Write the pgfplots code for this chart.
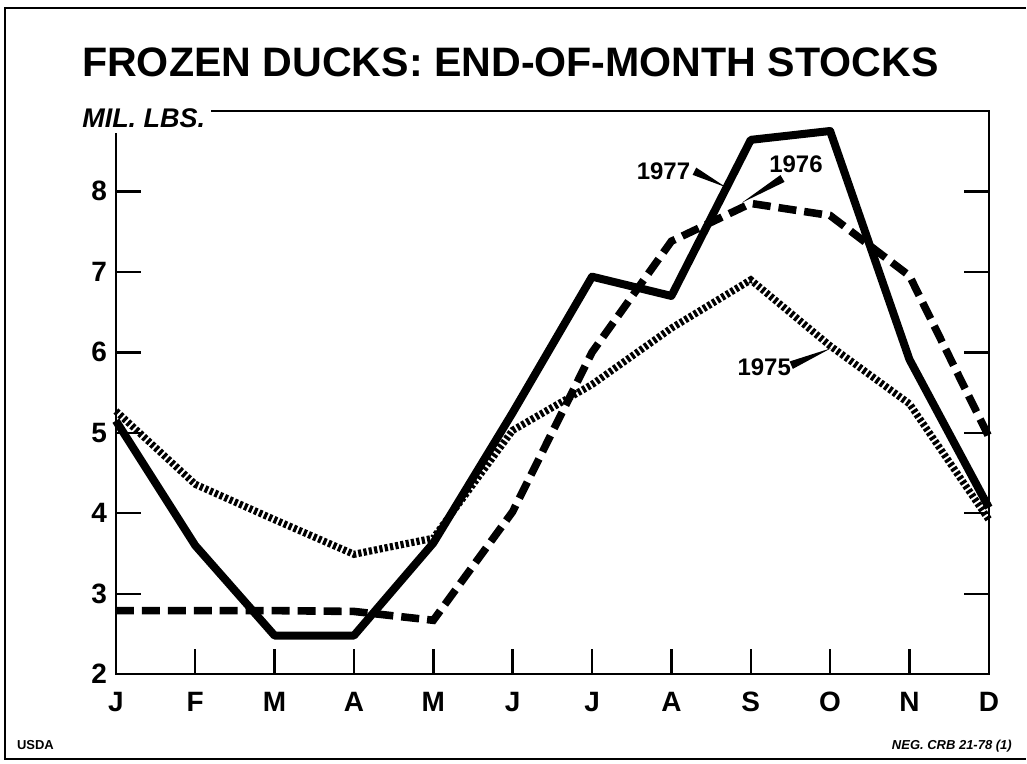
\documentclass[border=0pt]{standalone}
\usepackage{pgfplots}
\pgfplotsset{compat=1.18}
\usepackage{fontspec}
\setmainfont{Liberation Sans}

\begin{document}
\begin{tikzpicture}[x=1pt,y=1pt]
% invisible bounding box matching the page proportions
\path (-58,-44.5) rectangle (455.5,337.5);
\begin{axis}[
  at={(0,0)}, anchor=south west,
  scale only axis, width=437pt, height=282pt,
  xmin=0, xmax=11, ymin=2, ymax=9,
  xtick={0,...,11},
  xticklabels={J,F,M,A,M,J,J,A,S,O,N,D},
  ytick={2,...,8},
  tick align=inside,
  xtick pos=left, ytick pos=both, yticklabel pos=left,
  major tick length=12.5pt,
  axis line style={line width=1.2pt},
  every tick/.style={line width=1.2pt, black},
  tick label style={font=\fontsize{14}{14}\selectfont\bfseries},
  /pgf/number format/assume math mode=true,
  xticklabel style={yshift=-5pt, text height=10pt, text depth=0pt},
  yticklabel style={xshift=-1pt},
  clip=false,
]
% 1977 solid
\addplot[black, line width=4pt, line join=round] coordinates {
 (0,5.15) (1,3.60) (2,2.48) (3,2.48) (4,3.63) (5,5.25) (6,6.94) (7,6.70) (8,8.64) (9,8.75) (10,5.91) (11,4.07)};
% 1976 dashed
\addplot[black, line width=3.8pt, dash pattern=on 9pt off 4pt] coordinates {
 (0,2.79) (1,2.79) (2,2.79) (3,2.78) (4,2.67) (5,4.02) (6,6.00) (7,7.38) (8,7.85) (9,7.70) (10,6.95) (11,4.95)};
% 1975 dotted
\addplot[black, line width=3.6pt, dash pattern=on 1.6pt off 1.1pt] coordinates {
 (0,5.27) (1,4.36) (2,3.92) (3,3.49) (4,3.69) (5,5.03) (6,5.60) (7,6.30) (8,6.90) (9,6.08) (10,5.36) (11,3.92)};

\node[font=\fontsize{12}{12}\selectfont\bfseries] at (axis cs:6.90,8.25) {1977};
\fill (axis cs:7.313,8.295) -- (axis cs:7.267,8.205) -- (axis cs:7.69,8.05) -- cycle;
\node[font=\fontsize{12}{12}\selectfont\bfseries] at (axis cs:8.57,8.34) {1976};
\fill (axis cs:8.374,8.203) -- (axis cs:8.426,8.117) -- (axis cs:7.89,7.86) -- cycle;
\node[font=\fontsize{12}{12}\selectfont\bfseries] at (axis cs:8.17,5.82) {1975};
\fill (axis cs:8.49,5.886) -- (axis cs:8.53,5.794) -- (axis cs:9.01,6.05) -- cycle;
\end{axis}
% MIL. LBS. label covering corner of the axis box
\node[fill=white, anchor=west, inner sep=3pt,
      font=\fontsize{13.5}{13.5}\selectfont\bfseries\itshape] at (-20,278.5) {MIL. LBS.};
% title
\node[font=\fontsize{20.6}{20.6}\selectfont\bfseries] at (197.5,306.5) {FROZEN DUCKS: END-OF-MONTH STOCKS};
% footer
\node[anchor=base west, font=\fontsize{6.5}{6.5}\selectfont\bfseries] at (-53,-37.5) {USDA};
\node[anchor=base east, font=\fontsize{6.5}{6.5}\selectfont\bfseries\itshape] at (452,-37.5) {NEG. CRB 21-78 (1)};
% outer frame (left, top, bottom)
\draw[line width=1.2pt] (455.5,333.5) -- (-55.5,333.5) -- (-55.5,-42.5) -- (455.5,-42.5);
\end{tikzpicture}
\end{document}
